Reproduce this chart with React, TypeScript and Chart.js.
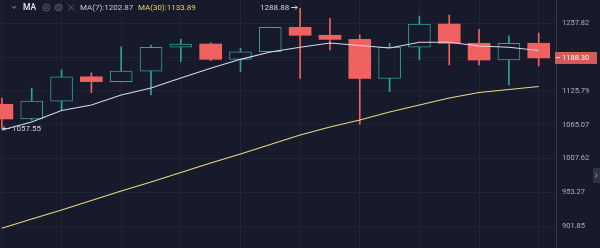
import React, { useEffect, useRef } from 'react';
import { Chart, registerables } from 'chart.js';

Chart.register(...registerables);

// Daily candles (oldest → newest)
const opens = [1101.4, 1075.1, 1107.0, 1152.2, 1143.1, 1163.0, 1209.3, 1215.8, 1185.6, 1200.5, 1249.6, 1233.3, 1225.1, 1149.0, 1209.3, 1256.4, 1217.3, 1184.3, 1217.3];
const closes = [1075.1, 1107.0, 1152.2, 1143.1, 1163.0, 1209.3, 1215.8, 1185.6, 1200.5, 1249.6, 1233.3, 1225.1, 1149.0, 1209.3, 1256.4, 1217.3, 1184.3, 1217.3, 1188.3];
const highs = [1112.8, 1131.0, 1165.1, 1159.5, 1210.0, 1213.9, 1225.0, 1218.4, 1207.2, 1250.2, 1288.88, 1268.2, 1233.9, 1217.3, 1272.9, 1275.1, 1245.5, 1232.0, 1237.8];
const lows = [1057.55, 1073.0, 1091.1, 1122.6, 1142.4, 1118.3, 1181.0, 1183.0, 1161.8, 1199.8, 1149.0, 1203.9, 1065.9, 1124.4, 1184.3, 1174.7, 1174.7, 1136.8, 1172.8];

// Moving averages
const ma7 = [1055.9, 1069.9, 1090.2, 1100.1, 1118.3, 1131.2, 1149.9, 1168.3, 1185.6, 1200.0, 1209.3, 1217.8, 1212.8, 1207.9, 1219.2, 1219.2, 1211.9, 1209.3, 1202.87];
const ma30 = [898.7, 912.5, 926.1, 940.6, 955.4, 969.6, 984.8, 1000.3, 1015.2, 1031.1, 1047.3, 1061.1, 1073.4, 1087.5, 1100.1, 1112.8, 1122.9, 1128.4, 1133.89];

// Price axis ticks
const priceTicks = [1257.82, 1189.99, 1125.79, 1065.07, 1007.62, 953.27, 901.85];
const gridColumns = [0, 2, 4, 6, 8, 10, 12, 14, 16, 18];

const BG = '#161a2b';
const GREEN = '#33a293';
const RED = '#f0625f';
const MA7_COLOR = '#d9d7ec';
const MA30_COLOR = '#e6d983';
const AXIS_TEXT = '#aeb2c0';
const FONT = 'Roboto, "DejaVu Sans", sans-serif';

const overlay = {
  id: 'overlay',
  afterDraw(chart: any) {
    const { ctx, scales } = chart;
    const xs = scales.x;
    const ys = scales.y;
    ctx.save();
    ctx.textBaseline = 'middle';

    // Extremes markers
    const maxVal = Math.max(...highs);
    const maxIdx = highs.indexOf(maxVal);
    const minVal = Math.min(...lows);
    const minIdx = lows.indexOf(minVal);
    ctx.font = `8px ${FONT}`;
    ctx.fillStyle = '#d3d5de';
    ctx.strokeStyle = '#d3d5de';
    ctx.lineWidth = 1;

    const hx = xs.getPixelForValue(maxIdx);
    const hy = Math.round(ys.getPixelForValue(maxVal)) - 0.5;
    ctx.textAlign = 'right';
    ctx.fillText(maxVal.toFixed(2), hx - 11, hy);
    ctx.beginPath();
    ctx.moveTo(hx - 9, hy);
    ctx.lineTo(hx - 3, hy);
    ctx.moveTo(hx - 5, hy - 2);
    ctx.lineTo(hx - 3, hy);
    ctx.lineTo(hx - 5, hy + 2);
    ctx.stroke();

    const lx = xs.getPixelForValue(minIdx);
    const ly = Math.round(ys.getPixelForValue(minVal)) - 0.5;
    ctx.textAlign = 'left';
    ctx.fillText(minVal.toFixed(2), lx + 10, ly);
    ctx.beginPath();
    ctx.moveTo(lx + 8, ly);
    ctx.lineTo(lx + 1, ly);
    ctx.moveTo(lx + 3, ly - 2);
    ctx.lineTo(lx + 1, ly);
    ctx.lineTo(lx + 3, ly + 2);
    ctx.stroke();

    // Indicator header
    const hy0 = 7.5;
    ctx.strokeStyle = '#8d91a2';
    ctx.beginPath();
    ctx.moveTo(12, 6);
    ctx.lineTo(14, 8.5);
    ctx.lineTo(16, 6);
    ctx.stroke();
    ctx.font = `500 8.5px ${FONT}`;
    ctx.fillStyle = '#e2e4ec';
    ctx.textAlign = 'left';
    ctx.fillText('MA', 23, hy0);

    ctx.strokeStyle = '#5d6174';
    ctx.beginPath();
    ctx.arc(46.3, hy0, 3.4, 0, Math.PI * 2);
    ctx.stroke();
    ctx.beginPath();
    ctx.arc(46.3, hy0, 1.3, 0, Math.PI * 2);
    ctx.stroke();
    ctx.beginPath();
    ctx.arc(58.7, hy0, 3.4, 0, Math.PI * 2);
    ctx.stroke();
    ctx.beginPath();
    ctx.arc(58.7, hy0, 1.6, 0, Math.PI * 2);
    ctx.stroke();
    ctx.beginPath();
    ctx.moveTo(68, hy0 - 3);
    ctx.lineTo(74, hy0 + 3);
    ctx.moveTo(74, hy0 - 3);
    ctx.lineTo(68, hy0 + 3);
    ctx.stroke();

    ctx.font = `8px ${FONT}`;
    ctx.fillStyle = '#c9cad6';
    ctx.fillText(`MA(7):${ma7[ma7.length - 1].toFixed(2)}`, 80, hy0);
    ctx.fillStyle = '#e4d36c';
    ctx.fillText(`MA(30):${ma30[ma30.length - 1].toFixed(2)}`, 138, hy0);

    // Last price tag on the price axis
    const last = closes[closes.length - 1];
    const py = ys.getPixelForValue(last);
    const ax = ys.left;
    ctx.fillStyle = '#d65b58';
    ctx.fillRect(ax - 1, py - 6, 42, 12);
    ctx.strokeStyle = '#f4e8e8';
    ctx.beginPath();
    ctx.moveTo(ax, Math.round(py) - 0.5);
    ctx.lineTo(ax + 4, Math.round(py) - 0.5);
    ctx.stroke();
    ctx.fillStyle = '#ffffff';
    ctx.font = `7.5px ${FONT}`;
    ctx.fillText(last.toFixed(2), ax + 6, py);

    // Scroll handle at the right edge
    ctx.fillStyle = '#2d3244';
    ctx.fillRect(593, 168, 7, 15);
    ctx.strokeStyle = '#9a9eae';
    ctx.beginPath();
    ctx.moveTo(595.5, 173.5);
    ctx.lineTo(597, 175.5);
    ctx.lineTo(595.5, 177.5);
    ctx.stroke();

    ctx.restore();
  },
};

export default function App() {
  const canvasRef = useRef<HTMLCanvasElement>(null);

  useEffect(() => {
    document.body.style.margin = '0';
    const canvas = canvasRef.current;
    if (!canvas) return;
    const up = opens.map((o, i) => closes[i] >= o);

    const chart = new Chart(canvas, {
      type: 'bar',
      data: {
        datasets: [
          {
            type: 'line',
            label: 'MA(30)',
            data: ma30.map((v, i) => ({ x: i, y: v })),
            borderColor: MA30_COLOR,
            borderWidth: 1.1,
            pointRadius: 0,
            tension: 0,
            order: 0,
          } as any,
          {
            type: 'line',
            label: 'MA(7)',
            data: ma7.map((v, i) => ({ x: i, y: v })),
            borderColor: MA7_COLOR,
            borderWidth: 1.1,
            pointRadius: 0,
            tension: 0,
            order: 0,
          } as any,
          {
            type: 'bar',
            label: 'body',
            data: opens.map((o, i) => ({ x: i, y: [o, closes[i]] })),
            backgroundColor: up.map((u) => (u ? BG : RED)),
            borderColor: up.map((u) => (u ? GREEN : RED)),
            borderWidth: up.map((u) => (u ? 1 : 0)),
            borderSkipped: false,
            barThickness: 22,
            grouped: false,
            order: 1,
          } as any,
          {
            type: 'bar',
            label: 'wick',
            data: lows.map((l, i) => ({ x: i, y: [l, highs[i]] })),
            backgroundColor: up.map((u) => (u ? GREEN : RED)),
            borderWidth: 0,
            barThickness: 1,
            grouped: false,
            order: 2,
          } as any,
        ],
      },
      options: {
        responsive: false,
        animation: false,
        maintainAspectRatio: false,
        layout: { padding: 0 },
        plugins: {
          legend: { display: false },
          tooltip: { enabled: false },
        },
        scales: {
          x: {
            type: 'linear',
            min: -0.064,
            max: 18.58,
            offset: false,
            grid: { color: 'rgba(255,255,255,0.045)', drawTicks: false, offset: false },
            border: { display: false },
            ticks: { display: false },
            afterBuildTicks: (s: any) => {
              s.ticks = gridColumns.map((v) => ({ value: v }));
            },
            afterFit: (s: any) => {
              s.height = 0;
              s.paddingLeft = 0;
              s.paddingRight = 0;
            },
          },
          y: {
            type: 'logarithmic',
            position: 'right',
            min: 870.1,
            max: 1306.8,
            beginAtZero: false,
            grid: { color: 'rgba(255,255,255,0.035)', drawTicks: false },
            border: { display: true, color: 'rgba(255,255,255,0.14)' },
            ticks: {
              color: AXIS_TEXT,
              font: { size: 7.5, family: FONT },
              padding: 6,
              autoSkip: false,
              callback: (v: any) => Number(v).toFixed(2),
            },
            afterBuildTicks: (s: any) => {
              s.ticks = priceTicks.map((v) => ({ value: v }));
            },
            afterFit: (s: any) => {
              s.width = 44;
              s.paddingTop = 0;
              s.paddingBottom = 0;
            },
          },
        } as any,
      },
      plugins: [overlay],
    });

    return () => chart.destroy();
  }, []);

  return (
    <div style={{ position: 'fixed', left: 0, top: 0, width: 600, height: 248, background: BG }}>
      <canvas ref={canvasRef} width={600} height={248} style={{ display: 'block' }} />
    </div>
  );
}
